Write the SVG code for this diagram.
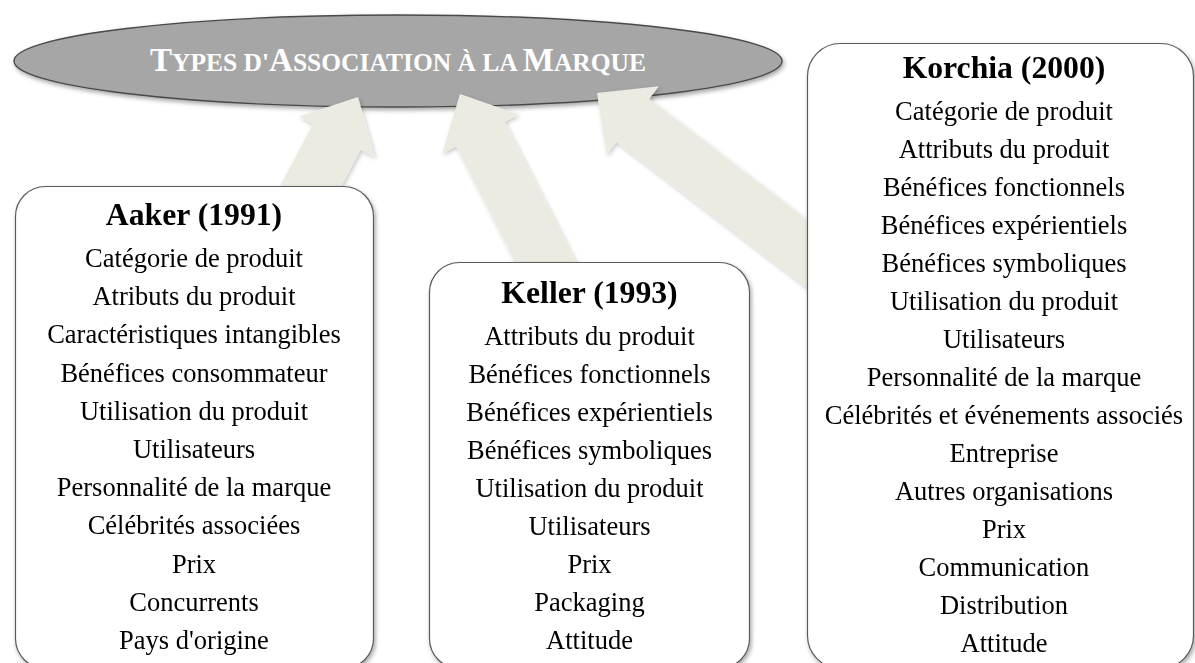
<svg xmlns="http://www.w3.org/2000/svg" width="1195" height="663" viewBox="0 0 1195 663">
<style>
  .bg { fill:#ffffff; }
  .oval { fill:#a6a6a6; stroke:#4a4a4a; stroke-width:1.4; }
  .otext { font-family:"Liberation Serif","Times New Roman",serif; font-weight:bold; fill:#ffffff; text-anchor:middle; }
  .arrow { fill:#ecebe2; }
  .box { fill:#ffffff; stroke:#5a5a5a; stroke-width:1.2; }
  .ttl { font-family:"Liberation Serif","Times New Roman",serif; font-weight:bold; font-size:31.7px; fill:#000; text-anchor:middle; }
  .it { font-family:"Liberation Serif","Times New Roman",serif; font-size:26.5px; fill:#000; text-anchor:middle; }
</style>
<defs>
  <filter id="sh" x="-10%" y="-10%" width="125%" height="130%">
    <feDropShadow dx="1.5" dy="2.5" stdDeviation="2" flood-color="#000" flood-opacity="0.35"/>
  </filter>
  <filter id="shA" x="-20%" y="-20%" width="140%" height="140%">
    <feDropShadow dx="1.5" dy="2" stdDeviation="2" flood-color="#000" flood-opacity="0.22"/>
  </filter>
</defs>
<rect class="bg" x="0" y="0" width="1195" height="663"/>

<g id="title">
  <ellipse class="oval" cx="398" cy="61" rx="384" ry="46" filter="url(#sh)"/>
  <text class="otext" x="398" y="71"><tspan font-size="33">T</tspan><tspan font-size="25.5">YPES D'</tspan><tspan font-size="33">A</tspan><tspan font-size="25.5">SSOCIATION À LA </tspan><tspan font-size="33">M</tspan><tspan font-size="25.5">ARQUE</tspan></text>
</g>

<g id="connectors">
  <g filter="url(#shA)">
    <polygon class="arrow" transform="translate(358,97) rotate(28)" points="0,0 43,45 27,45 27,140 -27,140 -27,45 -43,45"/>
    <polygon class="arrow" transform="translate(460,94) rotate(-27)" points="0,0 43,45 27,45 27,215 -27,215 -27,45 -43,45"/>
    <polygon class="arrow" transform="translate(597,93) rotate(-52.6)" points="0,0 43,45 27,45 27,295 -27,295 -27,45 -43,45"/>
  </g>
</g>

<g id="aaker">
  <rect class="box" x="15.5" y="186.5" width="358" height="482" rx="30" ry="30" filter="url(#sh)"/>
  <text class="ttl" x="194" y="225">Aaker (1991)</text>
  <text class="it" x="194" y="267">Catégorie de produit</text>
  <text class="it" x="194" y="305.2">Atributs du produit</text>
  <text class="it" x="194" y="343.4">Caractéristiques intangibles</text>
  <text class="it" x="194" y="381.6">Bénéfices consommateur</text>
  <text class="it" x="194" y="419.8">Utilisation du produit</text>
  <text class="it" x="194" y="458">Utilisateurs</text>
  <text class="it" x="194" y="496.2">Personnalité de la marque</text>
  <text class="it" x="194" y="534.4">Célébrités associées</text>
  <text class="it" x="194" y="572.6">Prix</text>
  <text class="it" x="194" y="610.8">Concurrents</text>
  <text class="it" x="194" y="649">Pays d'origine</text>
</g>

<g id="keller">
  <rect class="box" x="429.5" y="262.5" width="320" height="406" rx="30" ry="30" filter="url(#sh)"/>
  <text class="ttl" x="589.5" y="303">Keller (1993)</text>
  <text class="it" x="589.5" y="345">Attributs du produit</text>
  <text class="it" x="589.5" y="383">Bénéfices fonctionnels</text>
  <text class="it" x="589.5" y="421">Bénéfices expérientiels</text>
  <text class="it" x="589.5" y="459">Bénéfices symboliques</text>
  <text class="it" x="589.5" y="497">Utilisation du produit</text>
  <text class="it" x="589.5" y="535">Utilisateurs</text>
  <text class="it" x="589.5" y="573">Prix</text>
  <text class="it" x="589.5" y="611">Packaging</text>
  <text class="it" x="589.5" y="649">Attitude</text>
</g>

<g id="korchia">
  <rect class="box" x="807.5" y="43.5" width="386" height="625" rx="33" ry="33" filter="url(#sh)"/>
  <text class="ttl" x="1004" y="78">Korchia (2000)</text>
  <text class="it" x="1004" y="119.5">Catégorie de produit</text>
  <text class="it" x="1004" y="157.5">Attributs du produit</text>
  <text class="it" x="1004" y="195.5">Bénéfices fonctionnels</text>
  <text class="it" x="1004" y="233.5">Bénéfices expérientiels</text>
  <text class="it" x="1004" y="271.5">Bénéfices symboliques</text>
  <text class="it" x="1004" y="309.5">Utilisation du produit</text>
  <text class="it" x="1004" y="347.5">Utilisateurs</text>
  <text class="it" x="1004" y="385.5">Personnalité de la marque</text>
  <text class="it" x="1004" y="423.5">Célébrités et événements associés</text>
  <text class="it" x="1004" y="461.5">Entreprise</text>
  <text class="it" x="1004" y="499.5">Autres organisations</text>
  <text class="it" x="1004" y="537.5">Prix</text>
  <text class="it" x="1004" y="575.5">Communication</text>
  <text class="it" x="1004" y="613.5">Distribution</text>
  <text class="it" x="1004" y="651.5">Attitude</text>
</g>
</svg>
